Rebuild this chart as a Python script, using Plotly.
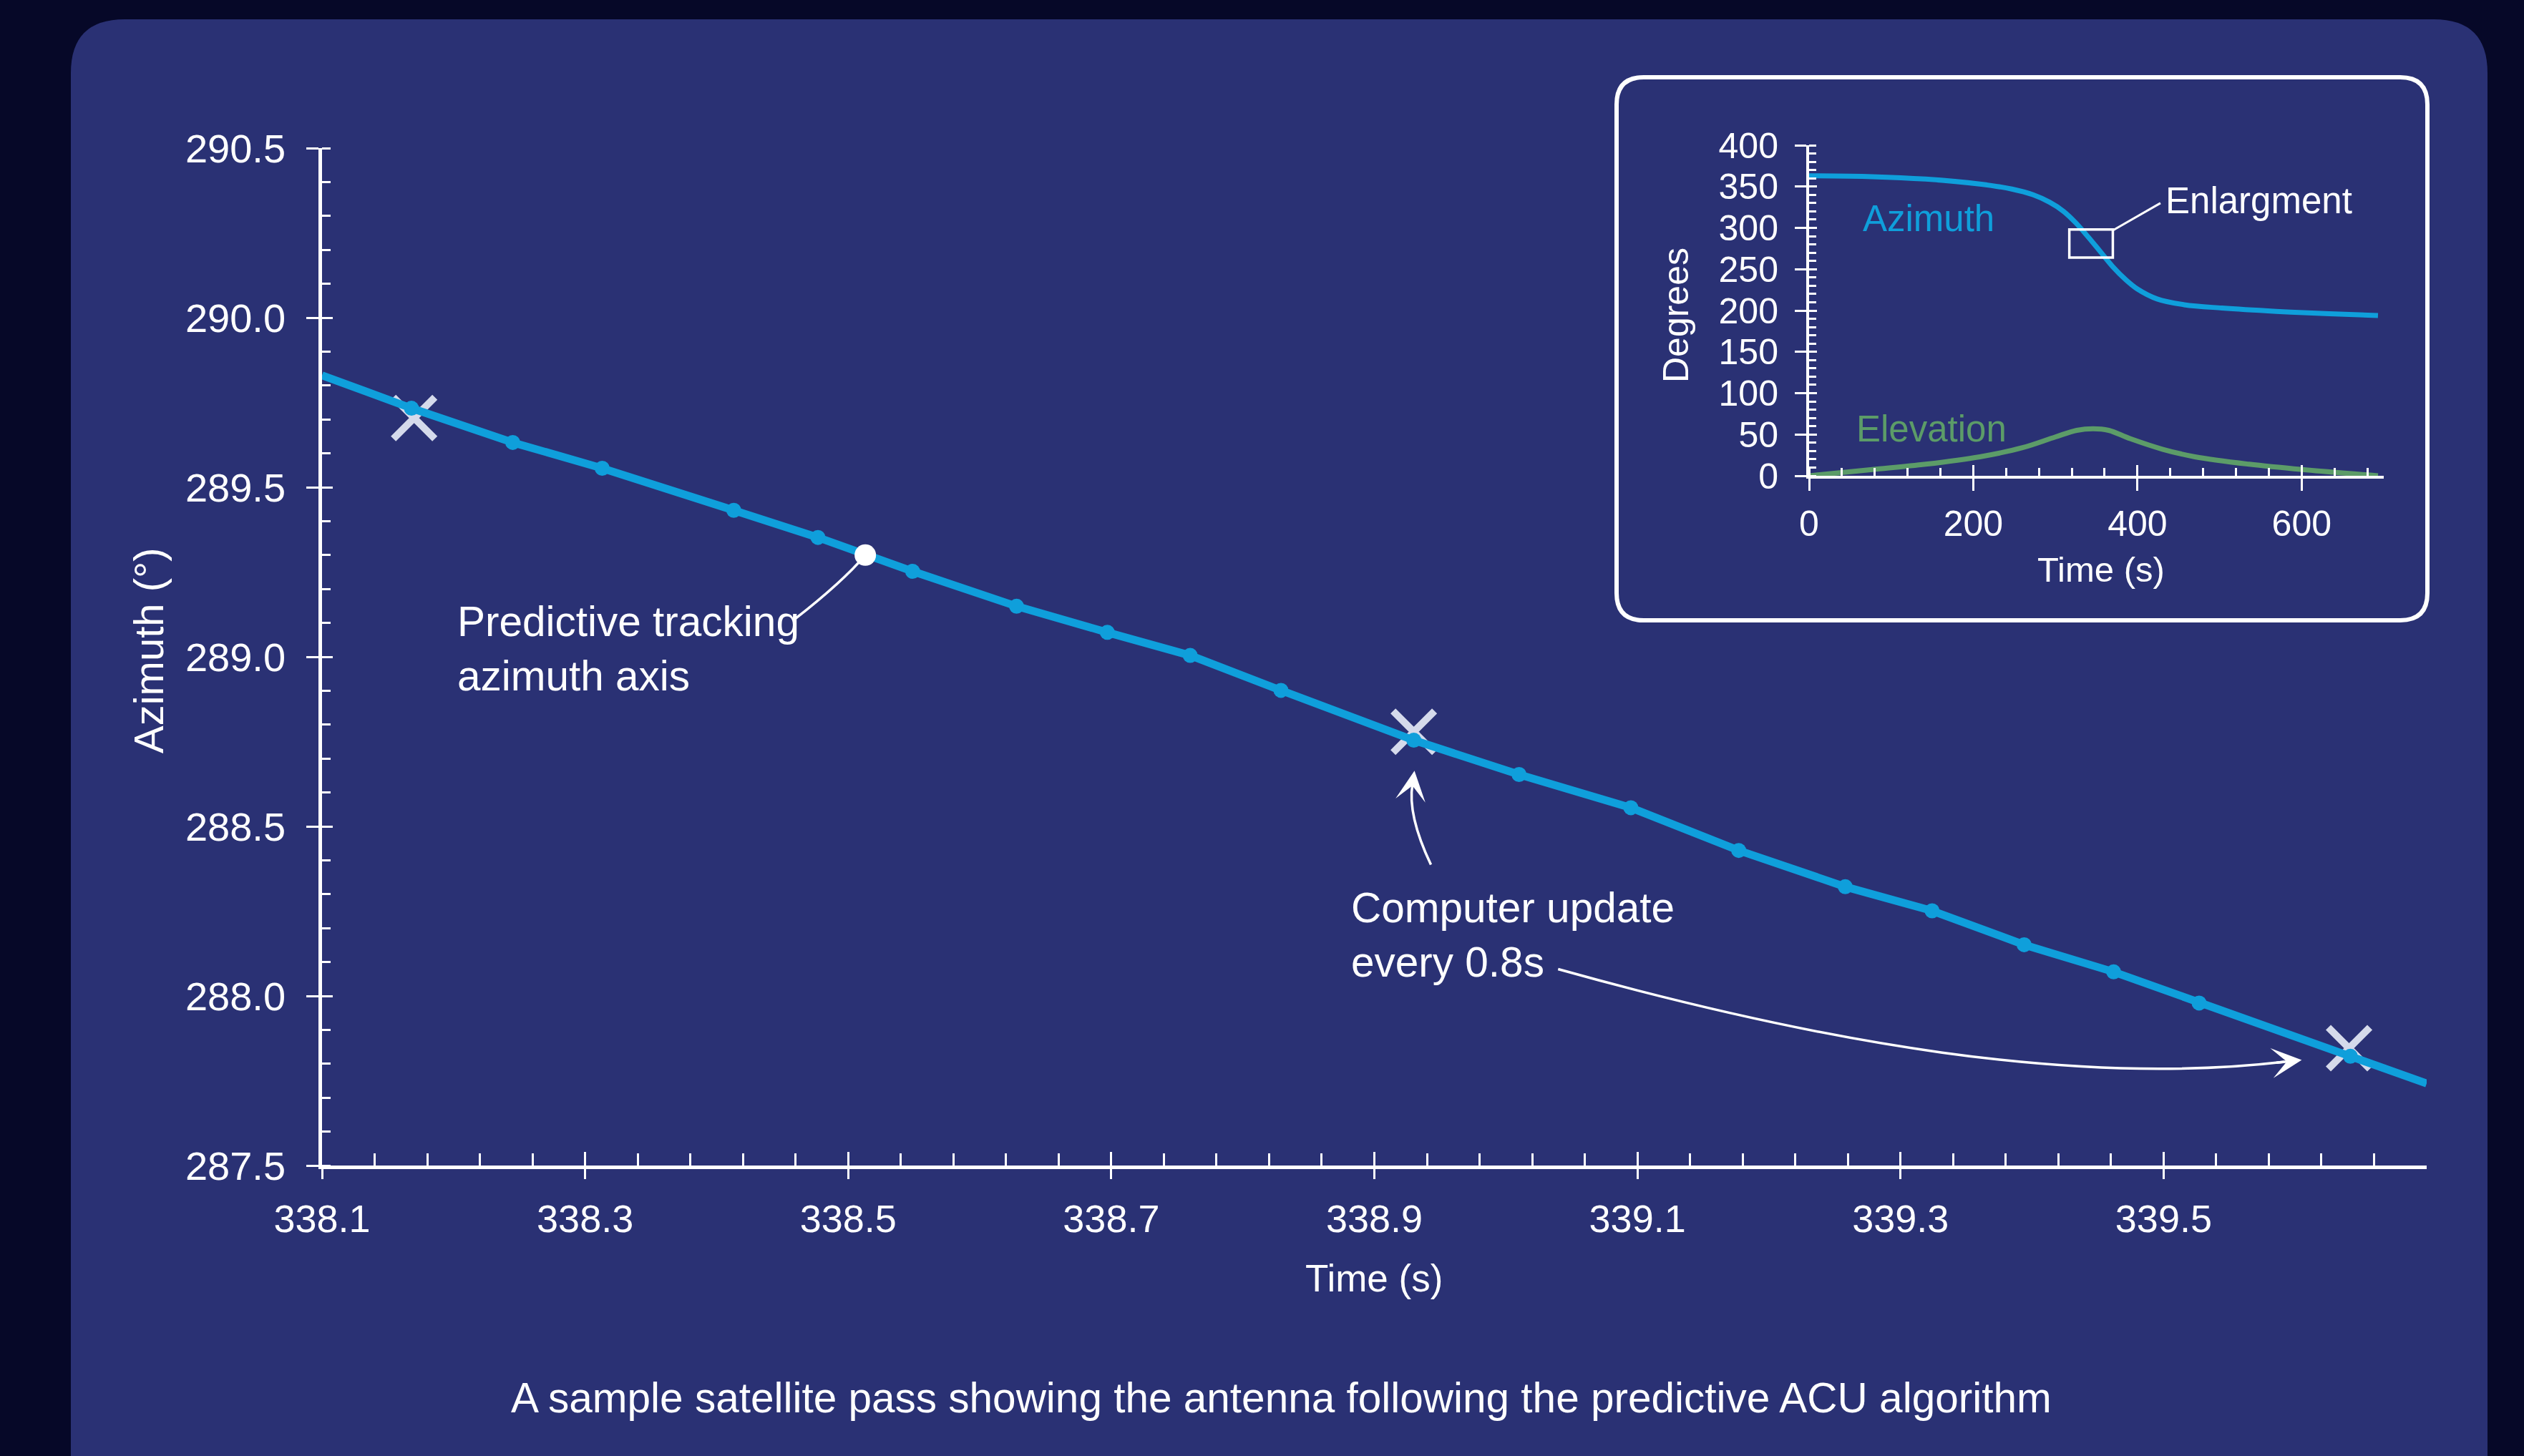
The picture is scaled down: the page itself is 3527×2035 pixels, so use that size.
import numpy as np
import plotly.graph_objects as go

W, H = 3527, 2035

# ---------------- data ----------------
# main chart: azimuth track (line), computer samples (dots), updates (X)
time_track = [338.100, 338.168, 338.245, 338.313, 338.413, 338.477, 338.549, 338.628,
              338.697, 338.760, 338.829, 338.930, 339.010, 339.095, 339.177, 339.258,
              339.324, 339.394, 339.462, 339.527, 339.642, 339.700]
az_track = [289.830, 289.733, 289.632, 289.556, 289.432, 289.352, 289.252, 289.149,
            289.072, 289.004, 288.901, 288.754, 288.653, 288.555, 288.429, 288.322,
            288.251, 288.151, 288.071, 287.979, 287.822, 287.742]
time_samples = [338.168, 338.245, 338.313, 338.413, 338.477, 338.549, 338.628, 338.697,
                338.760, 338.829, 338.930, 339.010, 339.095, 339.177, 339.258, 339.324,
                339.394, 339.462, 339.527, 339.642]
az_samples = [289.733, 289.632, 289.556, 289.432, 289.352, 289.252, 289.149, 289.072,
              289.004, 288.901, 288.754, 288.653, 288.555, 288.429, 288.322, 288.251,
              288.151, 288.071, 287.979, 287.822]
time_updates = [338.170, 338.930, 339.641]
az_updates = [289.704, 288.779, 287.846]
time_predict = [338.513]
az_predict = [289.300]

x_ticks = [338.1, 338.3, 338.5, 338.7, 338.9, 339.1, 339.3, 339.5]
x_ticklabels = ["338.1", "338.3", "338.5", "338.7", "338.9", "339.1", "339.3", "339.5"]
y_ticks = [287.5, 288.0, 288.5, 289.0, 289.5, 290.0, 290.5]
y_ticklabels = ["287.5", "288.0", "288.5", "289.0", "289.5", "290.0", "290.5"]

# inset: full pass
inset_time_az = [0, 77, 142, 208, 247, 273, 293, 310, 325, 340, 355, 370, 385, 400,
                 424, 457, 503, 569, 634, 693]
inset_az = [363, 362, 359, 353, 347, 340, 331, 320, 306, 289, 271, 253, 238, 226,
            214, 207, 203, 199, 196, 194]
inset_time_el = [0, 77, 142, 208, 260, 300, 326, 346, 365, 391, 431, 470, 536, 601, 693]
inset_el = [0, 7.5, 14, 23, 34, 47, 55, 57, 55, 45, 32, 23, 14, 7.5, 0]
inset_x_ticks = [0, 200, 400, 600]
inset_y_ticks = [0, 50, 100, 150, 200, 250, 300, 350, 400]
enlarge_t = [317, 370]
enlarge_deg = [264, 298]

# ---------------- styles ----------------
OUTER = "#060828"
PANEL = "#2a3174"
BLUE = "#0f9fdb"
GREEN = "#5c9c68"
XCOL = "#d5daeb"
WHITE = "#ffffff"
FONT = "Liberation Sans, Arial, sans-serif"


def pxx(x):
    return x / W


def pxy(y):
    return 1 - y / H


main_dom_x = [pxx(450), pxx(3391)]
main_dom_y = [pxy(1629), pxy(207)]
ins_dom_x = [pxx(2528), pxx(3331)]
ins_dom_y = [pxy(665), pxy(203)]

fig = go.Figure()

# update crosses (behind the line)
fig.add_trace(go.Scatter(x=time_updates, y=az_updates, mode="markers",
                         marker=dict(symbol="x-thin", size=58,
                                     line=dict(width=10, color=XCOL)),
                         hoverinfo="skip", showlegend=False))
# track line
fig.add_trace(go.Scatter(x=time_track, y=az_track, mode="lines",
                         line=dict(color=BLUE, width=11),
                         hoverinfo="skip", showlegend=False))
# sample dots
fig.add_trace(go.Scatter(x=time_samples, y=az_samples, mode="markers",
                         marker=dict(color=BLUE, size=21),
                         hoverinfo="skip", showlegend=False))
# predictive point
fig.add_trace(go.Scatter(x=time_predict, y=az_predict, mode="markers",
                         marker=dict(color=WHITE, size=30),
                         hoverinfo="skip", showlegend=False))

# inset curves
fig.add_trace(go.Scatter(x=inset_time_az, y=inset_az, mode="lines",
                         line=dict(color=BLUE, width=7, shape="spline"),
                         xaxis="x2", yaxis="y2", hoverinfo="skip", showlegend=False))
fig.add_trace(go.Scatter(x=inset_time_el, y=inset_el, mode="lines",
                         line=dict(color=GREEN, width=7, shape="spline"),
                         xaxis="x2", yaxis="y2", hoverinfo="skip", showlegend=False))

# dummy traces so the overlay tick axes render
fig.add_trace(go.Scatter(x=[None], y=[None], xaxis="x3", yaxis="y3",
                         hoverinfo="skip", showlegend=False))
fig.add_trace(go.Scatter(x=[None], y=[None], xaxis="x4", yaxis="y4",
                         hoverinfo="skip", showlegend=False))

x_minor = [round(v, 2) for v in np.arange(338.14, 339.68, 0.04)]
tick_common = dict(tickcolor=WHITE, tickwidth=3, showgrid=False, zeroline=False,
                   automargin=False)

layout = dict(
    width=W, height=H,
    margin=dict(l=0, r=0, t=0, b=0, pad=0, autoexpand=False),
    paper_bgcolor=OUTER,
    plot_bgcolor="rgba(0,0,0,0)",
    font=dict(family=FONT, color=WHITE),
    showlegend=False,
    xaxis=dict(domain=main_dom_x, range=[338.1, 339.7], anchor="y",
               tickmode="array", tickvals=x_ticks, ticktext=x_ticklabels,
               ticks="outside", ticklen=14, showline=True, linewidth=4.5, linecolor=WHITE,
               tickfont=dict(size=54, color=WHITE, family=FONT), ticklabelstandoff=9,
               minor=dict(tickmode="array", tickvals=x_minor, ticks="inside", ticklen=17,
                          tickwidth=3, tickcolor=WHITE, showgrid=False),
               **tick_common),
    yaxis=dict(domain=main_dom_y, range=[287.5, 290.5], anchor="x",
               tickmode="array", tickvals=y_ticks, ticktext=y_ticklabels,
               ticks="outside", ticklen=17, showline=True, linewidth=4.5, linecolor=WHITE,
               tickfont=dict(size=56, color=WHITE, family=FONT), ticklabelstandoff=18,
               minor=dict(tickmode="linear", tick0=287.5, dtick=0.1, ticks="inside",
                          ticklen=12, tickwidth=3, tickcolor=WHITE, showgrid=False),
               **tick_common),
    xaxis3=dict(overlaying="x", anchor="y", range=[338.1, 339.7], tickmode="array",
                tickvals=x_ticks, ticks="inside", ticklen=19, showticklabels=False,
                showline=False, **tick_common),
    yaxis3=dict(overlaying="y", anchor="x", range=[287.5, 290.5], tickmode="array",
                tickvals=y_ticks, ticks="inside", ticklen=15, showticklabels=False,
                showline=False, **tick_common),
    xaxis2=dict(domain=ins_dom_x, range=[0, 700], anchor="y2",
                tickmode="array", tickvals=inset_x_ticks,
                ticks="outside", ticklen=17, showline=True, linewidth=4, linecolor=WHITE,
                tickfont=dict(size=50, color=WHITE, family=FONT), ticklabelstandoff=3,
                minor=dict(tickmode="linear", tick0=0, dtick=40, ticks="inside", ticklen=11,
                           tickwidth=3, tickcolor=WHITE, showgrid=False),
                **tick_common),
    yaxis2=dict(domain=ins_dom_y, range=[0, 400], anchor="x2",
                tickmode="array", tickvals=inset_y_ticks,
                ticks="outside", ticklen=16, showline=True, linewidth=4, linecolor=WHITE,
                tickfont=dict(size=50, color=WHITE, family=FONT), ticklabelstandoff=13,
                minor=dict(tickmode="linear", tick0=0, dtick=10, ticks="inside", ticklen=10,
                           tickwidth=3, tickcolor=WHITE, showgrid=False),
                **tick_common),
    xaxis4=dict(overlaying="x2", anchor="y2", range=[0, 700], tickmode="array",
                tickvals=inset_x_ticks, ticks="inside", ticklen=15, showticklabels=False,
                showline=False, **tick_common),
    yaxis4=dict(overlaying="y2", anchor="x2", range=[0, 400], tickmode="array",
                tickvals=inset_y_ticks, ticks="inside", ticklen=11, showticklabels=False,
                showline=False, **tick_common),
)
fig.update_layout(**layout)


def rounded_rect(x0, y0, x1, y1, r):
    return (f"M {pxx(x0 + r)},{pxy(y0)} L {pxx(x1 - r)},{pxy(y0)} "
            f"Q {pxx(x1)},{pxy(y0)} {pxx(x1)},{pxy(y0 + r)} "
            f"L {pxx(x1)},{pxy(y1 - r)} Q {pxx(x1)},{pxy(y1)} {pxx(x1 - r)},{pxy(y1)} "
            f"L {pxx(x0 + r)},{pxy(y1)} Q {pxx(x0)},{pxy(y1)} {pxx(x0)},{pxy(y1 - r)} "
            f"L {pxx(x0)},{pxy(y0 + r)} Q {pxx(x0)},{pxy(y0)} {pxx(x0 + r)},{pxy(y0)} Z")


shapes = [
    # panel
    dict(type="path", xref="paper", yref="paper", layer="below",
         path=rounded_rect(99, 27, 3476, 2240, 75),
         fillcolor=PANEL, line=dict(width=0)),
    # inset frame
    dict(type="path", xref="paper", yref="paper", layer="above",
         path=rounded_rect(2259, 108, 3392, 867, 38),
         fillcolor="rgba(0,0,0,0)", line=dict(width=6, color=WHITE)),
    # enlargement box
    dict(type="rect", xref="x2", yref="y2", x0=enlarge_t[0], x1=enlarge_t[1],
         y0=enlarge_deg[0], y1=enlarge_deg[1], line=dict(width=3.5, color=WHITE)),
    dict(type="line", xref="x2", yref="y2", x0=370, y0=297, x1=428, y1=330,
         line=dict(width=3, color=WHITE)),
    # leader: predictive tracking
    dict(type="path", xref="x", yref="y",
         path="M 338.513,289.300 Q 338.496,289.222 338.4595,289.1115",
         line=dict(width=3.5, color=WHITE)),
    # arrow: computer update (up)
    dict(type="path", xref="x", yref="y",
         path="M 338.943,288.387 Q 338.925,288.534 338.9290,288.625",
         line=dict(width=3.5, color=WHITE)),
    # arrow: every 0.8 s (right)
    dict(type="path", xref="x", yref="y",
         path="M 339.0397,288.079 C 339.242,287.860 339.432,287.733 339.592,287.806",
         line=dict(width=3.5, color=WHITE)),
]
fig.update_layout(shapes=shapes)

ann = [
    dict(xref="paper", yref="paper", x=pxx(1920), y=pxy(1786), text="Time (s)",
         showarrow=False, font=dict(size=53), xanchor="center", yanchor="middle"),
    dict(xref="paper", yref="paper", x=pxx(207), y=pxy(910), text="Azimuth (°)",
         showarrow=False, font=dict(size=58), textangle=-90,
         xanchor="center", yanchor="middle"),
    dict(xref="paper", yref="paper", x=pxx(1790), y=pxy(1953),
         text="A sample satellite pass showing the antenna following the predictive ACU algorithm",
         showarrow=False, font=dict(size=58.5), xanchor="center", yanchor="middle"),
    dict(xref="paper", yref="paper", x=pxx(2936), y=pxy(796), text="Time (s)",
         showarrow=False, font=dict(size=49), xanchor="center", yanchor="middle"),
    dict(xref="paper", yref="paper", x=pxx(2342), y=pxy(441), text="Degrees",
         showarrow=False, font=dict(size=50), textangle=-90,
         xanchor="center", yanchor="middle"),
    dict(xref="x2", yref="y2", x=146, y=311, text="Azimuth", showarrow=False,
         font=dict(size=51, color=BLUE), xanchor="center", yanchor="middle"),
    dict(xref="x2", yref="y2", x=149, y=57, text="Elevation", showarrow=False,
         font=dict(size=51, color=GREEN), xanchor="center", yanchor="middle"),
    dict(xref="x2", yref="y2", x=432, y=333, text="Enlargment", showarrow=False,
         font=dict(size=51), xanchor="left", yanchor="middle"),
    dict(xref="x", yref="y", x=338.202, y=289.025,
         text="Predictive tracking<br>azimuth axis", showarrow=False, align="left",
         font=dict(size=58.5), xanchor="left", yanchor="middle"),
    dict(xref="x", yref="y", x=338.881, y=288.180,
         text="Computer update<br>every 0.8s", showarrow=False, align="left",
         font=dict(size=58.5), xanchor="left", yanchor="middle"),
    # arrowheads
    dict(xref="x", yref="y", axref="x", ayref="y", x=338.9305, y=288.664,
         ax=338.9288, ay=288.615, text="", showarrow=True, arrowhead=3,
         arrowsize=2.0, arrowwidth=3.5, arrowcolor=WHITE, standoff=0),
    dict(xref="x", yref="y", axref="x", ayref="y", x=339.605, y=287.811,
         ax=339.585, ay=287.803, text="", showarrow=True, arrowhead=3,
         arrowsize=2.0, arrowwidth=3.5, arrowcolor=WHITE, standoff=0),
]
fig.update_layout(annotations=ann)

fig.write_html(
    "out.html",
    config={"displayModeBar": False},
    post_script="document.body.style.margin='0px';"
                "document.body.style.background='" + OUTER + "';",
)
